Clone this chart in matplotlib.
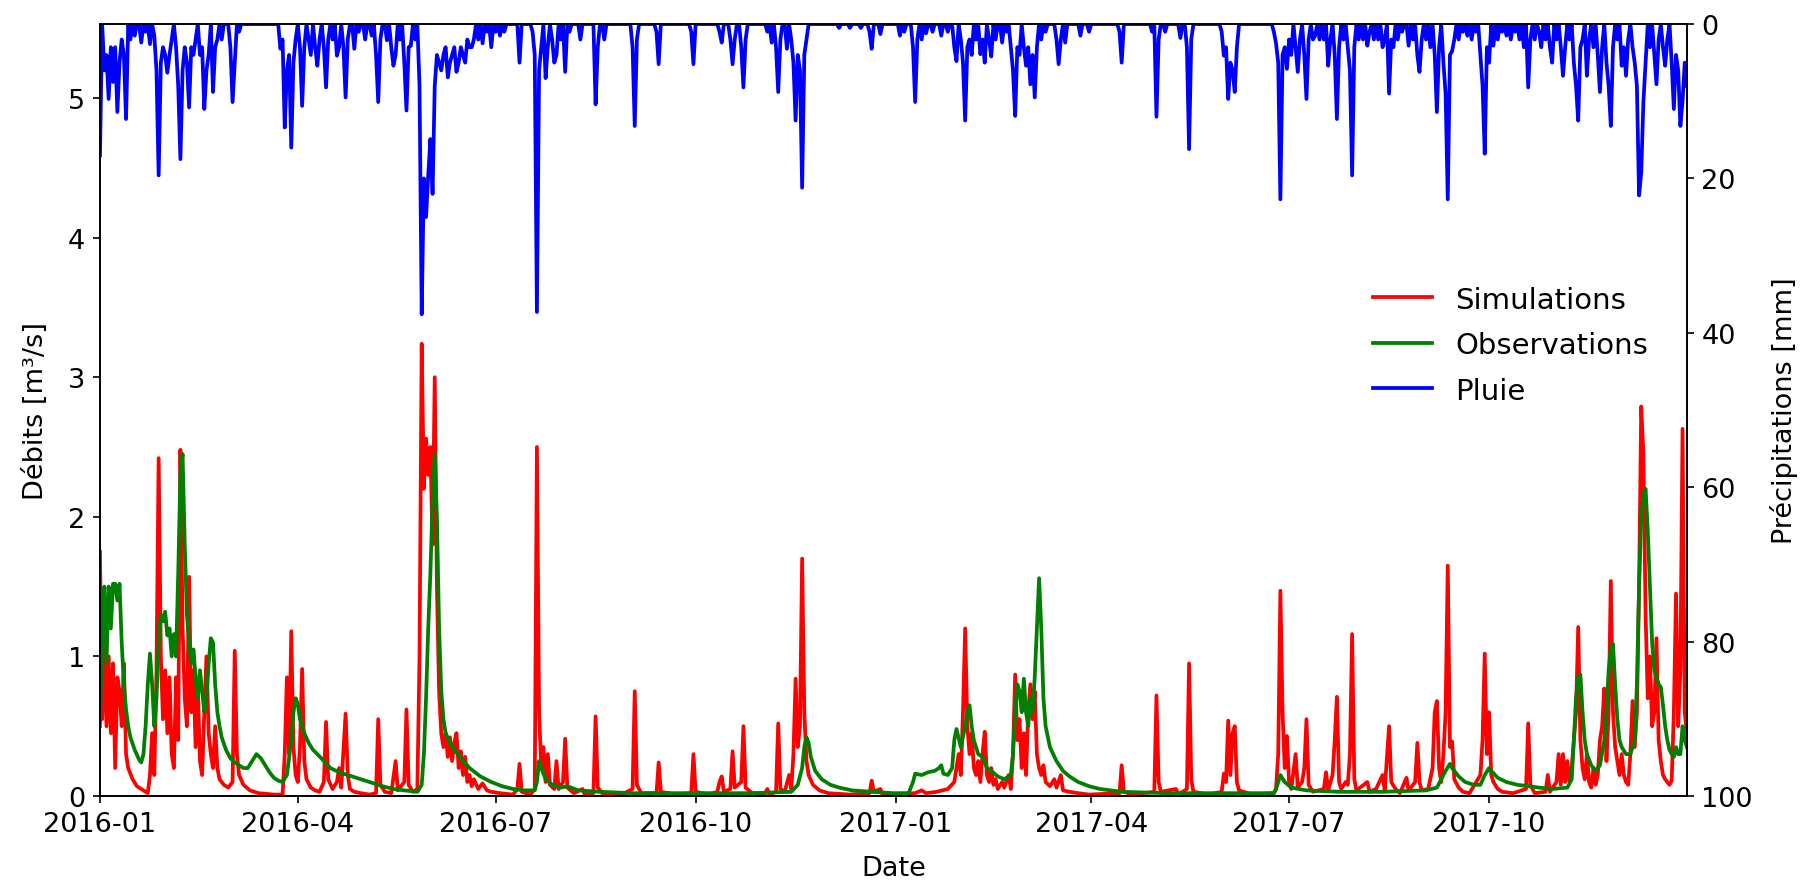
import numpy as np
import pandas as pd
import matplotlib
matplotlib.use("Agg")
import matplotlib.pyplot as plt
import matplotlib.dates as mdates

# ---- Data (days counted from 2016-01-01) ----
start = pd.Timestamp("2016-01-01")
n_days = 731

# simulated discharge [m3/s], read at key days
sim_days = [0, 1, 2, 3, 4, 5, 6, 7, 8, 9, 10, 11, 12, 13, 15, 17, 19, 21, 22, 23, 24, 25, 26, 27, 28, 29, 30,
            31, 32, 33, 34, 35, 36, 37, 38, 39, 40, 41, 42, 43, 44, 45, 46, 47, 48, 49, 50, 51, 52, 53, 54, 55,
            57, 59, 61, 62, 63, 64, 66, 69, 73, 80, 84, 85, 86, 87, 88, 89, 90, 91, 92, 93, 94, 95, 97, 99, 101,
            103, 104, 105, 107, 109, 110, 111, 113, 114, 115, 117, 120, 124, 127, 128, 129, 131, 134, 136, 137,
            140, 141, 142, 144, 146, 147, 148, 149, 150, 151, 152, 153, 154, 155, 156, 157, 158, 159, 160, 161,
            162, 163, 164, 165, 166, 167, 168, 169, 170, 171, 172, 174, 176, 178, 180, 184, 190, 192, 193, 194,
            198, 200, 201, 202, 203, 204, 205, 206, 207, 209, 210, 211, 213, 214, 215, 218, 222, 223, 227, 228,
            229, 231, 240, 245, 246, 247, 249, 256, 257, 258, 265, 272, 273, 274, 280, 284, 285, 286, 287, 290,
            291, 292, 295, 296, 297, 300, 306, 307, 308, 311, 312, 313, 315, 317, 318, 319, 320, 321, 322, 323,
            324, 325, 326, 328, 331, 335, 345, 354, 355, 356, 359, 360, 375, 378, 380, 385, 390, 393, 395, 396,
            397, 398, 399, 400, 401, 402, 403, 404, 405, 406, 407, 408, 409, 410, 411, 412, 413, 415, 416, 418,
            419, 420, 421, 422, 423, 424, 425, 426, 427, 428, 429, 430, 431, 432, 433, 434, 435, 437, 439, 440,
            442, 443, 446, 450, 455, 469, 470, 471, 475, 485, 486, 487, 488, 495, 496, 500, 501, 502, 503, 510,
            516, 517, 518, 519, 520, 521, 522, 523, 524, 530, 540, 541, 542, 543, 544, 545, 546, 547, 548, 550,
            551, 553, 554, 555, 556, 558, 563, 564, 565, 567, 568, 569, 570, 571, 573, 574, 575, 576, 577, 578,
            583, 584, 587, 590, 591, 593, 594, 596, 598, 601, 602, 605, 606, 607, 608, 611, 613, 614, 615, 616,
            617, 618, 619, 620, 621, 622, 623, 625, 627, 630, 635, 636, 637, 638, 639, 640, 641, 643, 645, 650,
            656, 657, 658, 660, 665, 666, 667, 670, 671, 672, 673, 674, 675, 676, 677, 678, 679, 680, 681, 682,
            683, 684, 685, 686, 687, 688, 689, 690, 691, 692, 693, 694, 695, 696, 697, 698, 699, 700, 701, 702,
            703, 704, 705, 706, 707, 708, 709, 710, 711, 712, 713, 714, 715, 716, 717, 718, 719, 720, 721, 722,
            723, 724, 725, 726, 727, 728, 729, 730]
sim_vals = [1.75, 0.55, 1.15, 0.5, 1.0, 0.45, 0.95, 0.2, 0.85, 0.75, 0.5, 0.95, 0.3, 0.2, 0.12, 0.07, 0.05, 0.03,
            0.02, 0.15, 0.45, 0.15, 0.9, 2.42, 1.0, 0.55, 0.9, 0.45, 0.85, 0.3, 0.2, 0.85, 0.4, 2.48, 1.2, 0.7,
            0.5, 1.57, 0.6, 0.9, 0.35, 0.8, 0.25, 0.15, 0.6, 1.0, 0.45, 0.3, 0.2, 0.5, 0.2, 0.12, 0.08, 0.06, 0.1,
            1.04, 0.3, 0.15, 0.08, 0.04, 0.02, 0.01, 0.01, 0.3, 0.85, 0.3, 1.18, 0.35, 0.15, 0.1, 0.35, 0.91, 0.25,
            0.12, 0.06, 0.04, 0.03, 0.1, 0.53, 0.12, 0.05, 0.1, 0.2, 0.06, 0.59, 0.15, 0.05, 0.03, 0.02, 0.01,
            0.02, 0.55, 0.08, 0.03, 0.02, 0.25, 0.04, 0.1, 0.62, 0.08, 0.03, 0.05, 1.0, 3.24, 2.2, 2.56, 2.3, 2.5,
            1.8, 3.0, 1.5, 0.75, 0.45, 0.35, 0.45, 0.28, 0.42, 0.25, 0.38, 0.45, 0.2, 0.32, 0.15, 0.28, 0.1, 0.15,
            0.07, 0.12, 0.05, 0.09, 0.04, 0.03, 0.02, 0.01, 0.05, 0.23, 0.03, 0.01, 0.05, 2.5, 0.6, 0.2, 0.35, 0.1,
            0.3, 0.08, 0.05, 0.25, 0.05, 0.1, 0.41, 0.06, 0.02, 0.05, 0.01, 0.02, 0.57, 0.06, 0.02, 0.01, 0.05,
            0.75, 0.08, 0.02, 0.02, 0.24, 0.03, 0.01, 0.02, 0.3, 0.03, 0.01, 0.03, 0.1, 0.14, 0.03, 0.05, 0.32,
            0.06, 0.1, 0.5, 0.06, 0.02, 0.02, 0.05, 0.01, 0.03, 0.52, 0.05, 0.03, 0.15, 0.05, 0.3, 0.84, 0.35, 0.5,
            1.7, 0.6, 0.25, 0.15, 0.08, 0.04, 0.02, 0.01, 0.02, 0.11, 0.03, 0.05, 0.01, 0.02, 0.04, 0.02, 0.03,
            0.05, 0.1, 0.3, 0.15, 0.6, 1.2, 0.5, 0.3, 0.45, 0.2, 0.15, 0.25, 0.1, 0.3, 0.46, 0.15, 0.1, 0.2, 0.08,
            0.12, 0.05, 0.1, 0.06, 0.15, 0.05, 0.3, 0.87, 0.4, 0.55, 0.2, 0.45, 0.15, 0.6, 0.8, 0.55, 0.75, 0.3,
            0.2, 0.15, 0.22, 0.1, 0.07, 0.12, 0.06, 0.15, 0.04, 0.03, 0.02, 0.01, 0.02, 0.22, 0.03, 0.01, 0.03,
            0.72, 0.1, 0.03, 0.05, 0.01, 0.05, 0.95, 0.12, 0.03, 0.01, 0.03, 0.16, 0.1, 0.54, 0.15, 0.45, 0.5, 0.1,
            0.04, 0.01, 0.02, 0.05, 0.3, 1.47, 0.6, 0.2, 0.43, 0.1, 0.05, 0.3, 0.06, 0.1, 0.2, 0.55, 0.08, 0.03,
            0.05, 0.17, 0.04, 0.15, 0.4, 0.71, 0.1, 0.05, 0.1, 0.08, 0.3, 1.16, 0.12, 0.04, 0.1, 0.03, 0.05, 0.15,
            0.04, 0.5, 0.1, 0.05, 0.02, 0.13, 0.04, 0.1, 0.38, 0.1, 0.04, 0.05, 0.2, 0.6, 0.68, 0.2, 0.1, 0.3, 0.6,
            1.65, 0.35, 0.39, 0.12, 0.06, 0.03, 0.02, 0.15, 0.4, 1.02, 0.3, 0.6, 0.15, 0.1, 0.05, 0.03, 0.02,
            0.05, 0.52, 0.08, 0.02, 0.03, 0.15, 0.03, 0.1, 0.3, 0.08, 0.3, 0.1, 0.25, 0.1, 0.2, 0.4, 0.6, 1.21,
            0.4, 0.2, 0.12, 0.3, 0.1, 0.06, 0.2, 0.08, 0.15, 0.4, 0.5, 0.77, 0.25, 0.6, 1.54, 0.6, 0.35, 0.25,
            0.15, 0.3, 0.15, 0.1, 0.08, 0.3, 0.68, 0.35, 0.6, 1.5, 2.79, 2.45, 1.3, 0.7, 1.0, 0.5, 0.6, 1.13,
            0.4, 0.25, 0.15, 0.12, 0.1, 0.08, 0.11, 0.6, 1.45, 0.5, 0.9, 2.63, 0.6, 0.45]

# observed discharge [m3/s], read at key days
obs_days = [0, 1, 2, 3, 4, 5, 6, 7, 8, 9, 10, 11, 12, 13, 14, 16, 18, 19, 20, 21, 22, 23, 24, 25, 26, 27, 28,
            29, 30, 31, 32, 33, 34, 35, 36, 37, 38, 39, 40, 41, 42, 43, 44, 45, 46, 47, 48, 49, 50, 51, 52, 53,
            54, 55, 56, 58, 60, 62, 64, 66, 68, 70, 72, 74, 76, 78, 80, 82, 84, 86, 88, 89, 90, 91, 92, 94, 96,
            98, 100, 103, 106, 110, 114, 118, 122, 126, 130, 135, 140, 146, 148, 149, 150, 151, 152, 153, 154,
            155, 156, 157, 158, 159, 161, 163, 166, 170, 175, 180, 185, 190, 195, 200, 201, 202, 203, 205, 208,
            212, 215, 220, 230, 245, 260, 280, 300, 318, 321, 323, 324, 325, 326, 327, 329, 332, 336, 340, 346,
            355, 365, 372, 374, 375, 378, 381, 384, 386, 387, 388, 390, 392, 393, 394, 396, 398, 399, 400, 401,
            402, 404, 406, 408, 410, 413, 416, 419, 420, 421, 422, 423, 424, 425, 426, 427, 428, 429, 430, 431,
            432, 433, 434, 435, 437, 440, 443, 446, 450, 455, 460, 470, 490, 520, 540, 541, 543, 545, 548, 555,
            570, 590, 610, 615, 617, 619, 621, 622, 625, 628, 632, 635, 637, 639, 640, 643, 647, 652, 657, 662,
            668, 675, 677, 678, 679, 680, 681, 682, 683, 684, 686, 688, 690, 692, 693, 694, 695, 696, 697, 698,
            699, 700, 702, 704, 706, 707, 708, 709, 710, 711, 712, 713, 714, 715, 716, 717, 718, 719, 720, 721,
            722, 723, 724, 725, 726, 727, 728, 729, 730]
obs_vals = [0.5, 1.2, 1.5, 0.95, 1.5, 1.2, 1.52, 1.52, 1.4, 1.52, 1.1, 0.8, 0.62, 0.5, 0.42, 0.33, 0.26, 0.24,
            0.3, 0.5, 0.8, 1.02, 0.8, 0.5, 0.7, 1.1, 1.3, 1.25, 1.32, 1.15, 1.2, 1.0, 1.16, 1.0, 1.6, 2.3, 2.45,
            1.8, 1.3, 1.1, 0.95, 1.05, 0.85, 0.7, 0.9, 0.75, 0.6, 0.7, 0.95, 1.13, 1.1, 0.8, 0.6, 0.5, 0.42, 0.33,
            0.27, 0.24, 0.22, 0.2, 0.2, 0.25, 0.3, 0.27, 0.22, 0.17, 0.13, 0.11, 0.1, 0.15, 0.4, 0.6, 0.7, 0.66,
            0.55, 0.45, 0.38, 0.33, 0.3, 0.25, 0.2, 0.17, 0.15, 0.13, 0.11, 0.09, 0.07, 0.05, 0.04, 0.03, 0.08,
            0.3, 0.7, 1.2, 1.6, 2.1, 2.45, 2.0, 1.2, 0.75, 0.55, 0.45, 0.38, 0.33, 0.27, 0.2, 0.14, 0.1, 0.07,
            0.05, 0.04, 0.04, 0.1, 0.25, 0.2, 0.12, 0.08, 0.06, 0.07, 0.04, 0.03, 0.02, 0.02, 0.02, 0.02, 0.03,
            0.08, 0.2, 0.35, 0.42, 0.38, 0.28, 0.18, 0.12, 0.08, 0.06, 0.04, 0.03, 0.02, 0.02, 0.1, 0.16, 0.15,
            0.17, 0.18, 0.2, 0.22, 0.16, 0.15, 0.2, 0.4, 0.48, 0.35, 0.5, 0.6, 0.65, 0.5, 0.4, 0.3, 0.28, 0.2,
            0.18, 0.14, 0.12, 0.15, 0.3, 0.6, 0.8, 0.75, 0.6, 0.84, 0.6, 0.5, 0.7, 0.6, 0.85, 1.2, 1.56, 1.2, 0.7,
            0.5, 0.35, 0.25, 0.18, 0.14, 0.1, 0.07, 0.05, 0.03, 0.02, 0.02, 0.02, 0.05, 0.15, 0.1, 0.06, 0.04,
            0.03, 0.03, 0.04, 0.06, 0.12, 0.18, 0.23, 0.2, 0.14, 0.1, 0.08, 0.08, 0.15, 0.2, 0.18, 0.13, 0.1,
            0.08, 0.07, 0.06, 0.05, 0.06, 0.12, 0.4, 0.7, 0.85, 0.87, 0.6, 0.4, 0.3, 0.22, 0.18, 0.22, 0.4, 0.6,
            0.9, 1.05, 1.09, 0.8, 0.55, 0.4, 0.35, 0.3, 0.3, 0.4, 0.8, 1.5, 2.0, 2.16, 2.2, 1.9, 1.5, 1.1, 0.9,
            0.85, 0.8, 0.78, 0.65, 0.5, 0.4, 0.33, 0.3, 0.28, 0.35, 0.3, 0.3, 0.5, 0.4, 0.35]

# daily rainfall [mm], rainy days only (all other days are dry)
rain_days = [0, 2, 3, 4, 5, 6, 7, 8, 9, 10, 11, 12, 14, 16, 19, 21, 23, 25, 26, 27, 28, 29, 30, 31, 32, 33, 35,
             36, 37, 38, 39, 40, 41, 42, 43, 44, 46, 47, 48, 49, 50, 52, 53, 54, 56, 60, 61, 62, 64, 83, 84, 85,
             86, 87, 88, 89, 90, 92, 93, 94, 96, 97, 99, 100, 101, 103, 104, 105, 107, 109, 110, 112, 113, 114,
             117, 119, 122, 125, 127, 128, 129, 132, 134, 135, 136, 138, 140, 141, 142, 143, 145, 147, 148, 149,
             150, 151, 152, 153, 154, 155, 156, 157, 158, 159, 160, 161, 162, 163, 164, 165, 166, 167, 168, 169,
             170, 171, 172, 174, 176, 178, 180, 182, 184, 186, 193, 199, 200, 201, 202, 203, 205, 206, 208, 209,
             210, 212, 214, 216, 221, 228, 229, 232, 245, 246, 247, 256, 257, 272, 273, 285, 286, 290, 291, 292,
             295, 296, 297, 307, 309, 311, 312, 313, 316, 318, 319, 320, 321, 322, 323, 324, 325, 340, 345, 350,
             354, 355, 359, 368, 370, 374, 375, 376, 378, 380, 383, 387, 390, 393, 394, 396, 397, 398, 399, 400,
             401, 403, 405, 406, 407, 409, 410, 412, 415, 417, 419, 420, 421, 422, 423, 425, 426, 427, 428, 429,
             430, 431, 433, 435, 440, 441, 442, 444, 451, 455, 469, 470, 484, 486, 487, 490, 497, 500, 501, 502,
             516, 517, 518, 519, 520, 521, 522, 523, 540, 541, 542, 543, 544, 545, 546, 547, 548, 550, 551, 552,
             554, 555, 556, 558, 559, 561, 563, 565, 566, 568, 569, 570, 572, 574, 575, 576, 577, 579, 581, 583,
             584, 586, 588, 590, 591, 593, 594, 595, 597, 599, 602, 604, 606, 607, 608, 610, 612, 614, 615, 616,
             618, 619, 620, 621, 622, 623, 625, 627, 629, 631, 633, 635, 636, 637, 638, 639, 641, 643, 645, 647,
             649, 651, 653, 655, 657, 658, 660, 662, 663, 665, 667, 668, 670, 672, 673, 674, 676, 678, 679, 680,
             681, 682, 684, 685, 687, 689, 690, 691, 693, 694, 695, 696, 698, 700, 701, 702, 703, 705, 706, 707,
             708, 709, 710, 711, 713, 715, 716, 717, 719, 720, 721, 723, 724, 725, 726, 727, 728, 729, 730]
rain_mm = [17, 6, 4, 9.7, 3, 7.5, 3, 11.4, 5, 2, 4, 12.3, 2, 1.5, 2.4, 1, 2.6, 1.5, 6, 19.6, 5, 3, 4, 6.3, 4, 2,
           3, 8, 17.5, 6, 3, 5, 10.8, 3, 4, 2, 4, 3, 11, 6, 4, 8.8, 3, 2, 2, 3, 10.1, 5, 1, 3.2, 2, 13.4, 6, 4,
           16, 5, 2, 3, 10.6, 3, 2, 4, 3, 5.4, 2, 3, 8.2, 2, 2, 4.1, 3, 3, 9.5, 2, 3.2, 1, 2, 1.5, 4, 10.1, 2,
           2.1, 3, 5.4, 4, 2, 5, 11.2, 3, 2.8, 2, 8, 37.6, 20, 25, 19.6, 14.9, 22, 8, 4, 5, 6, 4, 3, 6.9, 5, 4,
           3, 6.2, 5, 3, 4, 5, 2, 3, 3, 2, 2, 2.5, 1, 3, 1, 1.5, 1, 5, 1, 4, 37.3, 6, 3, 7, 3, 2, 5, 4, 2, 6.2,
           1, 2, 10.4, 3, 2, 3, 13.2, 2, 1, 5.2, 1, 5.2, 1, 2.4, 2, 5.2, 2, 3, 8.2, 2, 1, 2.4, 3, 8.8, 2, 3.2,
           2, 5, 12.5, 4, 6, 21.2, 4, 2, 0.5, 0.5, 0.5, 1, 3.2, 1.3, 1.5, 1, 3, 10.1, 2, 2, 1.2, 1, 1.5, 1, 3,
           4.8, 2, 5, 12.5, 3, 2, 4, 2, 3.9, 2, 5, 2, 4.2, 2, 2.4, 1, 3, 6, 11.9, 3, 4, 3, 5.4, 3, 7.8, 4, 9.5,
           3, 2, 1, 2, 5.2, 2, 2.4, 1.5, 1, 1, 5, 1, 12, 2, 1, 1.8, 3, 16.2, 2, 1, 4.1, 3, 9.7, 5, 6, 8.8, 3, 1,
           2.5, 5, 22.7, 4, 3, 5.8, 2, 4, 3, 6.2, 2, 4, 9.7, 2, 2, 1.5, 2, 2, 5.4, 2, 4, 12.3, 3, 2, 3, 6, 19.6,
           3, 2, 2, 2.8, 1, 2, 2, 3, 2, 9, 2, 3, 2, 1, 2.8, 2, 4, 6.2, 2, 2, 3, 4, 11.4, 3, 5, 9, 22.7, 4, 3.5,
           2, 2, 1, 1.5, 2, 1, 4, 8, 16.8, 3, 5, 2.8, 2, 1, 1.5, 2, 1, 2, 3, 8.2, 2, 2, 1, 3, 2, 3, 5, 2, 3,
           6.7, 3, 2, 5, 8, 12.5, 3, 2, 6.7, 2, 3, 4, 8.8, 3, 5, 8, 13.2, 3, 2, 5.4, 3, 6.7, 2, 3, 5, 8, 22.2,
           19.2, 10, 5, 3, 4, 7.8, 2, 3, 5.4, 2, 5, 11, 4, 6, 13.2, 10, 5, 8]

# daily rainfall table for the twin axis
dates = pd.date_range(start, periods=n_days, freq="D")
rain = np.zeros(n_days)
rain[rain_days] = rain_mm

sim_dates = start + pd.to_timedelta(sim_days, unit="D")
obs_dates = start + pd.to_timedelta(obs_days, unit="D")

plt.rcParams["font.size"] = 13

# ---- Plot ----
fig = plt.figure(figsize=(12.073, 5.913), dpi=150)
ax1 = fig.add_axes([0.0552, 0.1015, 0.8763, 0.8703])

l1, = ax1.plot(sim_dates, sim_vals, color="red", lw=1.8, label="Simulations")
l2, = ax1.plot(obs_dates, obs_vals, color="green", lw=1.8, label="Observations")
ax1.set_ylim(0, 5.53)
ax1.set_xlim(dates[0], dates[-1])
ax1.set_ylabel("Débits [m³/s]", labelpad=9)
ax1.set_xlabel("Date", labelpad=9)
ax1.xaxis.set_major_locator(mdates.MonthLocator(bymonth=[1, 4, 7, 10]))
ax1.xaxis.set_major_formatter(mdates.DateFormatter("%Y-%m"))

# rainfall hanging from the top
ax2 = ax1.twinx()
l3, = ax2.plot(dates, rain, color="blue", lw=1.8, label="Pluie")
ax2.set_ylim(100, 0)
ax2.set_ylabel("Précipitations [mm]", labelpad=8)

ax2.legend(handles=[l1, l2, l3], loc="center", bbox_to_anchor=(0.889, 0.584),
           frameon=False, fontsize=14, labelspacing=0.6)

fig.savefig("out.png", dpi=150)
